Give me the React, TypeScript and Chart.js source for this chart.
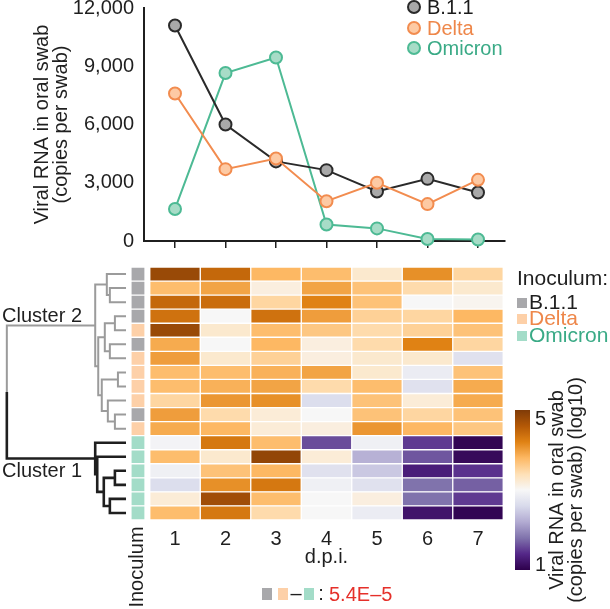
import React, { useEffect, useRef } from 'react';
import { Chart, registerables } from 'chart.js';

Chart.register(...registerables);

const FONT = "'Liberation Sans', Arial, Helvetica, sans-serif";
const INK = '#1f1f1f';

// ---------------- data: line chart ----------------
const DPI = [1, 2, 3, 4, 5, 6, 7];
const SERIES_NAMES = ['B.1.1', 'Delta', 'Omicron'];
const B11_RNA = [11100, 6000, 4100, 3650, 2550, 3200, 2500];
const DELTA_RNA = [7600, 3700, 4250, 2050, 3000, 1900, 3150];
const OMICRON_RNA = [1650, 8650, 9450, 850, 650, 100, 80];
const Y_TICKS = [0, 3000, 6000, 9000, 12000];

// ---------------- data: heatmap ----------------
const ROW_INOCULUM = [
  'B.1.1', 'B.1.1', 'B.1.1', 'B.1.1', 'Delta', 'B.1.1', 'Delta', 'Delta', 'Delta', 'Delta', 'B.1.1', 'Delta',
  'Omicron', 'Omicron', 'Omicron', 'Omicron', 'Omicron', 'Omicron',
];
const ROW_CLUSTER = [2, 2, 2, 2, 2, 2, 2, 2, 2, 2, 2, 2, 1, 1, 1, 1, 1, 1];
// log10 viral RNA, rows x d.p.i. 1..7
const HEAT_LOG10 = [
  [4.8, 4.45, 3.8, 3.75, 3.25, 4.1, 3.5],
  [3.75, 3.95, 3.15, 3.95, 3.7, 3.45, 3.25],
  [4.45, 4.4, 3.5, 4.2, 3.7, 3.0, 3.05],
  [4.35, 3.0, 4.35, 4.0, 3.55, 3.5, 3.8],
  [4.8, 3.25, 3.75, 3.65, 3.45, 3.55, 3.7],
  [3.9, 3.0, 3.8, 3.15, 3.45, 4.2, 3.5],
  [4.0, 3.25, 3.55, 3.15, 3.25, 3.25, 2.7],
  [3.75, 3.75, 3.85, 3.95, 3.25, 2.85, 3.7],
  [3.75, 3.85, 3.95, 3.45, 3.75, 2.7, 3.9],
  [3.5, 4.05, 4.1, 2.65, 3.7, 3.2, 3.9],
  [4.0, 3.45, 3.2, 3.0, 3.7, 3.5, 3.7],
  [3.9, 3.8, 3.2, 3.15, 4.05, 3.8, 3.65],
  [2.95, 4.3, 3.75, 1.6, 2.9, 1.5, 1.05],
  [3.75, 3.25, 4.85, 3.2, 2.25, 1.65, 1.1],
  [2.9, 3.7, 3.8, 2.7, 2.45, 1.3, 1.45],
  [2.65, 4.1, 4.3, 2.9, 2.7, 1.8, 1.7],
  [3.2, 4.75, 3.75, 3.0, 3.15, 1.8, 1.5],
  [3.75, 4.3, 3.45, 3.0, 2.85, 1.2, 1.05],
];
// hierarchical clustering: [nodeA, nodeB, distance]; leaves 0..17, merges get ids 18..
const LINKAGE: [number, number, number][] = [
  [1, 2, 0.32],
  [0, 18, 0.38],
  [3, 4, 0.22],
  [5, 6, 0.32],
  [20, 21, 0.42],
  [7, 8, 0.16],
  [10, 11, 0.22],
  [9, 24, 0.36],
  [23, 25, 0.48],
  [22, 26, 0.55],
  [19, 27, 0.61],
  [14, 15, 0.22],
  [16, 17, 0.32],
  [29, 30, 0.44],
  [13, 31, 0.57],
  [12, 32, 0.61],
  [28, 33, 2.36],
];
const CLUSTER_LABELS: Record<number, string> = { 2: 'Cluster 2', 1: 'Cluster 1' };
const CBAR_MIN = 1;
const CBAR_MAX = 5;
const P_VALUE_TEXT = '5.4E\u20135';

// ---------------- styles ----------------
const SERIES_STYLE = [
  { line: '#2a2a2a', fill: '#a9a9a9', text: '#1a1a1a' },
  { line: '#f28c4f', fill: '#fdcaa4', text: '#ee874a' },
  { line: '#4dba94', fill: '#a7dcc7', text: '#3aaa86' },
];
const INOC_COLORS: Record<string, string> = { 'B.1.1': '#a8a8ab', Delta: '#fdd0a8', Omicron: '#a3dcc8' };
const INOC_TEXT: Record<string, string> = { 'B.1.1': '#1f1f1f', Delta: '#ee874a', Omicron: '#3aaa86' };
const CLUSTER_COLORS: Record<number, string> = { 2: '#9b9b9b', 1: '#1f1f1f' };
const CLUSTER_WIDTHS: Record<number, number> = { 2: 2, 1: 2.6 };
const PUOR = ['#2d004b', '#542788', '#8073ac', '#b2abd2', '#d8daeb', '#f7f7f7', '#fee0b6', '#fdb863', '#e08214', '#b35806', '#7f3b08'];

const INOC_X = 0.267; // x position (in d.p.i. units) of the inoculum strip
const INOC_W = 0.28;
const DENDRO_LEAF_X = 0.03;
const HEAT_TOP = 255; // page y of the heatmap canvas

function hexToRgb(h: string) {
  const n = parseInt(h.slice(1), 16);
  return [(n >> 16) & 255, (n >> 8) & 255, n & 255];
}
function puor(v: number): string {
  const t = Math.min(1, Math.max(0, (v - CBAR_MIN) / (CBAR_MAX - CBAR_MIN))) * (PUOR.length - 1);
  const i = Math.min(PUOR.length - 2, Math.floor(t));
  const f = t - i;
  const a = hexToRgb(PUOR[i]);
  const b = hexToRgb(PUOR[i + 1]);
  const c = a.map((av, k) => Math.round(av + (b[k] - av) * f));
  return `rgb(${c[0]},${c[1]},${c[2]})`;
}

// ---------------- top chart ----------------
const topLegendPlugin = {
  id: 'topLegend',
  afterDraw(chart: any) {
    const ctx = chart.ctx as CanvasRenderingContext2D;
    ctx.save();
    const rows = [7, 28, 48];
    SERIES_NAMES.forEach((name, i) => {
      const st = SERIES_STYLE[i];
      ctx.beginPath();
      ctx.arc(414, rows[i], 6, 0, Math.PI * 2);
      ctx.fillStyle = st.fill;
      ctx.fill();
      ctx.lineWidth = 2;
      ctx.strokeStyle = st.line;
      ctx.stroke();
      ctx.font = `20px ${FONT}`;
      ctx.fillStyle = st.text;
      ctx.textAlign = 'left';
      ctx.textBaseline = 'middle';
      ctx.fillText(name, 427, rows[i] + 1);
    });
    ctx.restore();
  },
};

function TopChart() {
  const ref = useRef<HTMLCanvasElement>(null);
  useEffect(() => {
    const values = [B11_RNA, DELTA_RNA, OMICRON_RNA];
    const orders = [1, 0, 2];
    const chart = new Chart(ref.current as HTMLCanvasElement, {
      type: 'line',
      data: {
        datasets: SERIES_NAMES.map((name, s) => ({
          label: name,
          data: DPI.map((d, i) => ({ x: d, y: values[s][i] })),
          borderColor: SERIES_STYLE[s].line,
          borderWidth: 2,
          pointRadius: 6,
          pointBackgroundColor: SERIES_STYLE[s].fill,
          pointBorderColor: SERIES_STYLE[s].line,
          pointBorderWidth: 2,
          tension: 0,
          order: orders[s],
          clip: false,
        })) as any,
      },
      options: {
        animation: false,
        responsive: false,
        events: [],
        layout: { autoPadding: false, padding: { left: 0, right: 105, top: 8, bottom: 0 } },
        plugins: { legend: { display: false }, tooltip: { enabled: false } },
        scales: {
          x: {
            type: 'linear',
            min: 0.3861,
            max: 7.5347,
            afterBuildTicks: (s: any) => {
              s.ticks = DPI.map((v) => ({ value: v }));
            },
            afterFit: (s: any) => {
              s.height = 14;
            },
            grid: { display: true, drawOnChartArea: false, drawTicks: true, tickLength: 7, color: INK, lineWidth: 1.5 },
            border: { display: true, color: INK, width: 2 },
            ticks: { display: false, padding: 0 },
          },
          y: {
            type: 'linear',
            min: 0,
            max: 12000,
            afterBuildTicks: (s: any) => {
              s.ticks = Y_TICKS.map((v) => ({ value: v }));
            },
            afterFit: (s: any) => {
              s.width = 144;
            },
            grid: { display: false, drawTicks: true, tickLength: 10 },
            border: { display: true, color: INK, width: 2 },
            ticks: { padding: 0, color: INK, font: { size: 20, family: FONT, lineHeight: 0.8 } },
            title: {
              display: true,
              text: ['Viral RNA in oral swab', '(copies per swab)'],
              color: INK,
              font: { size: 20, family: FONT, lineHeight: 0.95 },
              padding: { top: 33, bottom: 0 },
            },
          },
        },
      } as any,
      plugins: [topLegendPlugin],
    });
    return () => chart.destroy();
  }, []);
  return (
    <canvas
      ref={ref}
      width={610}
      height={255}
      style={{ position: 'absolute', left: 0, top: 0, width: 610, height: 255 }}
    />
  );
}

// ---------------- heatmap chart ----------------
const heatDecorPlugin = {
  id: 'heatDecor',
  afterDraw(chart: any) {
    const ctx = chart.ctx as CanvasRenderingContext2D;
    const x = chart.scales.x;
    const y = chart.scales.y;
    ctx.save();

    // dendrogram
    const nodes: { h: number; y: number; c: number }[] = [];
    ROW_CLUSTER.forEach((c, i) => nodes.push({ h: 0, y: y.getPixelForValue(i), c }));
    const px = (h: number) => x.getPixelForValue(DENDRO_LEAF_X - h);
    ctx.lineJoin = 'miter';
    ctx.lineCap = 'butt';
    LINKAGE.forEach(([a, b, h]) => {
      const A = nodes[a];
      const B = nodes[b];
      const c = A.c === B.c ? A.c : 0;
      const xh = px(h);
      const ym = (A.y + B.y) / 2;
      if (c) {
        ctx.beginPath();
        ctx.moveTo(px(A.h), A.y);
        ctx.lineTo(xh, A.y);
        ctx.lineTo(xh, B.y);
        ctx.lineTo(px(B.h), B.y);
        ctx.strokeStyle = CLUSTER_COLORS[c];
        ctx.lineWidth = CLUSTER_WIDTHS[c];
        ctx.stroke();
      } else {
        [A, B].forEach((N) => {
          ctx.beginPath();
          ctx.moveTo(px(N.h), N.y);
          ctx.lineTo(xh, N.y);
          ctx.lineTo(xh, ym);
          ctx.strokeStyle = CLUSTER_COLORS[N.c];
          ctx.lineWidth = CLUSTER_WIDTHS[N.c];
          ctx.stroke();
        });
      }
      nodes.push({ h, y: ym, c });
    });

    // cluster labels
    ctx.font = `20px ${FONT}`;
    ctx.fillStyle = INK;
    ctx.textAlign = 'left';
    ctx.textBaseline = 'alphabetic';
    [2, 1].forEach((c) => {
      let top: { h: number; y: number; c: number } | null = null;
      nodes.forEach((n) => {
        if (n.c === c && (!top || n.h > top.h)) top = n;
      });
      if (!top) return;
      const t = top as { h: number; y: number; c: number };
      const isUpper = c === 2;
      ctx.fillText(CLUSTER_LABELS[c], 2, isUpper ? t.y - 3 : t.y + 18);
    });

    // rotated "Inoculum" under the strip
    ctx.save();
    ctx.translate(x.getPixelForValue(INOC_X), 567 - HEAT_TOP);
    ctx.rotate(-Math.PI / 2);
    ctx.textAlign = 'center';
    ctx.textBaseline = 'middle';
    ctx.fillStyle = INK;
    ctx.fillText('Inoculum', 0, 0);
    ctx.restore();

    // inoculum legend
    ctx.font = `21px ${FONT}`;
    ctx.textAlign = 'left';
    ctx.textBaseline = 'middle';
    ctx.fillStyle = INK;
    ctx.fillText('Inoculum:', 517, 279 - HEAT_TOP);
    const legendRows = [303, 319, 336];
    SERIES_NAMES.forEach((name, i) => {
      const yy = legendRows[i] - HEAT_TOP;
      ctx.fillStyle = INOC_COLORS[name];
      ctx.fillRect(517, yy - 5, 10, 10);
      ctx.fillStyle = INOC_TEXT[name];
      ctx.fillText(name, 529, yy);
    });

    // colour bar
    ctx.font = `20px ${FONT}`;
    const cbTop = 410 - HEAT_TOP;
    const cbBot = 570 - HEAT_TOP;
    const grad = ctx.createLinearGradient(0, cbBot, 0, cbTop);
    PUOR.forEach((col, i) => grad.addColorStop(i / (PUOR.length - 1), col));
    ctx.fillStyle = grad;
    ctx.fillRect(515, cbTop, 15, cbBot - cbTop);
    ctx.fillStyle = INK;
    ctx.textAlign = 'left';
    ctx.fillText(String(CBAR_MAX), 535, cbTop + 9);
    ctx.fillText(String(CBAR_MIN), 535, cbBot - 5);
    const cbTitle = ['Viral RNA in oral swab', '(copies per swab) (log10)'];
    cbTitle.forEach((line, i) => {
      ctx.save();
      ctx.translate(557 + i * 19, (cbTop + cbBot) / 2);
      ctx.rotate(-Math.PI / 2);
      ctx.textAlign = 'center';
      ctx.textBaseline = 'middle';
      ctx.fillText(line, 0, 0);
      ctx.restore();
    });

    // comparison legend
    const ly = 594 - HEAT_TOP;
    ctx.fillStyle = INOC_COLORS['B.1.1'];
    ctx.fillRect(262, ly - 6, 10, 12);
    ctx.fillStyle = INOC_COLORS['Delta'];
    ctx.fillRect(278, ly - 6, 10, 12);
    ctx.fillStyle = INOC_COLORS['Omicron'];
    ctx.fillRect(304, ly - 6, 10, 12);
    ctx.fillStyle = INK;
    ctx.textAlign = 'center';
    ctx.fillText('\u2013', 296, ly);
    ctx.fillText(':', 321, ly);
    ctx.textAlign = 'left';
    ctx.fillStyle = '#e5302a';
    ctx.fillText(P_VALUE_TEXT, 329, ly + 1);

    ctx.restore();
  },
};

function HeatChart() {
  const ref = useRef<HTMLCanvasElement>(null);
  useEffect(() => {
    const rowIds = HEAT_LOG10.map((_, i) => `r${i + 1}`);
    const cellBase = {
      borderColor: '#ffffff',
      borderWidth: 1,
      borderSkipped: false,
      barPercentage: 1,
      categoryPercentage: 1,
      grouped: false,
      clip: false,
    };
    const datasets: any[] = [
      {
        ...cellBase,
        label: 'Inoculum',
        data: rowIds.map(() => [INOC_X - INOC_W / 2, INOC_X + INOC_W / 2]),
        backgroundColor: ROW_INOCULUM.map((n) => INOC_COLORS[n]),
      },
      ...DPI.map((d, c) => ({
        ...cellBase,
        label: `d.p.i. ${d}`,
        data: rowIds.map(() => [d - 0.5, d + 0.5]),
        backgroundColor: HEAT_LOG10.map((row) => puor(row[c])),
      })),
    ];
    const chart = new Chart(ref.current as HTMLCanvasElement, {
      type: 'bar',
      data: { labels: rowIds, datasets },
      options: {
        animation: false,
        responsive: false,
        events: [],
        indexAxis: 'y',
        layout: { autoPadding: false, padding: { left: 149.75, right: 106.75, top: 12, bottom: 0 } },
        plugins: { legend: { display: false }, tooltip: { enabled: false } },
        scales: {
          x: {
            type: 'linear',
            min: 0.5,
            max: 7.5,
            afterBuildTicks: (s: any) => {
              s.ticks = DPI.map((v) => ({ value: v }));
            },
            afterFit: (s: any) => {
              s.height = 89;
            },
            grid: { display: false, drawTicks: false },
            border: { display: false },
            ticks: { padding: 9, color: INK, font: { size: 20, family: FONT, lineHeight: 1 } },
            title: {
              display: true,
              text: 'd.p.i.',
              color: INK,
              font: { size: 20, family: FONT, lineHeight: 1 },
              padding: { top: 0, bottom: 42 },
            },
          },
          y: { type: 'category', display: false },
        },
      } as any,
      plugins: [heatDecorPlugin],
    });
    return () => chart.destroy();
  }, []);
  return (
    <canvas
      ref={ref}
      width={610}
      height={354}
      style={{ position: 'absolute', left: 0, top: HEAT_TOP, width: 610, height: 354 }}
    />
  );
}

export default function App() {
  return (
    <div style={{ position: 'absolute', left: 0, top: 0, width: 610, height: 609, background: '#ffffff', overflow: 'hidden' }}>
      <TopChart />
      <HeatChart />
    </div>
  );
}
